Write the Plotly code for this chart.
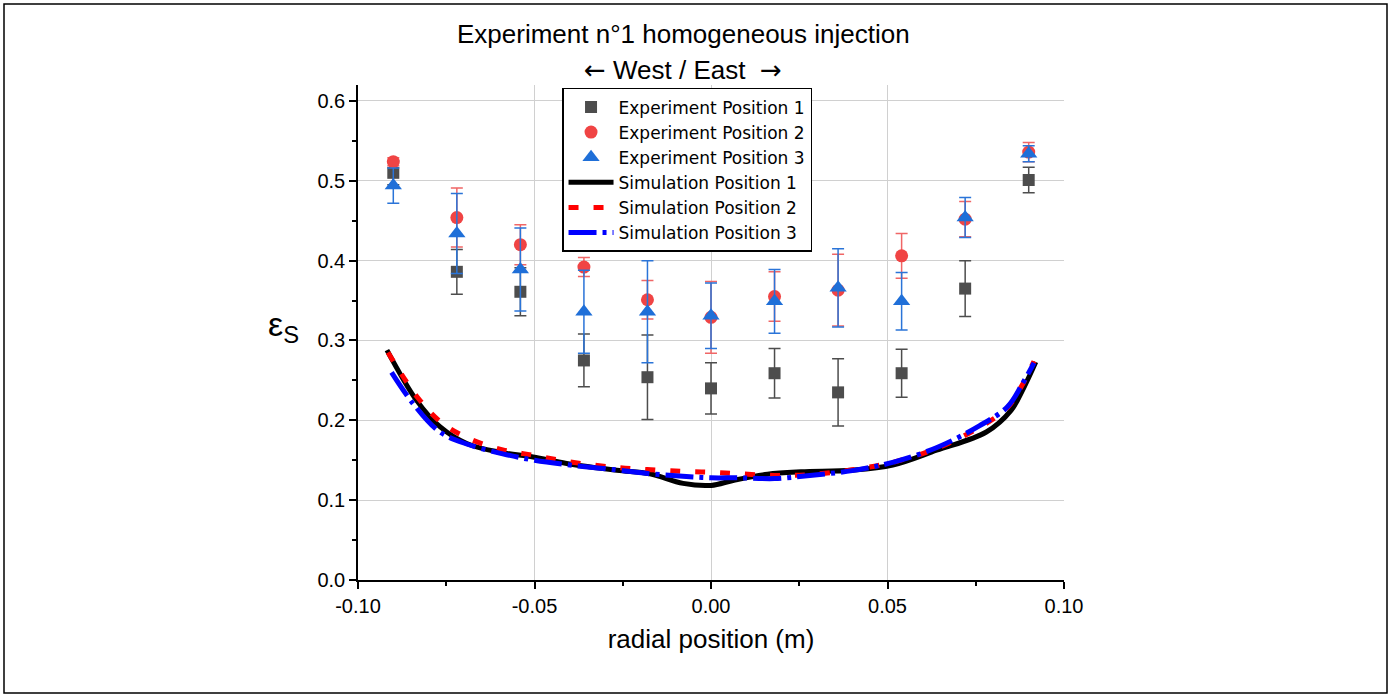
import plotly.graph_objects as go

# experimental positions (m)
x_exp = [-0.09, -0.072, -0.054, -0.036, -0.018, 0.0, 0.018, 0.036, 0.054, 0.072, 0.09]

exp1 = [0.510, 0.386, 0.361, 0.275, 0.254, 0.240, 0.259, 0.235, 0.259, 0.365, 0.501]
exp1_err = [0.015, 0.028, 0.030, 0.033, 0.053, 0.032, 0.031, 0.042, 0.030, 0.035, 0.016]

exp2 = [0.524, 0.454, 0.420, 0.392, 0.351, 0.329, 0.355, 0.363, 0.406, 0.452, 0.536]
exp2_err = [0.005, 0.037, 0.025, 0.012, 0.024, 0.045, 0.031, 0.045, 0.028, 0.022, 0.012]

exp3 = [0.494, 0.434, 0.389, 0.336, 0.336, 0.331, 0.349, 0.366, 0.349, 0.454, 0.534]
exp3_err = [0.022, 0.050, 0.052, 0.052, 0.064, 0.041, 0.040, 0.049, 0.036, 0.025, 0.010]

# simulation profiles
x_sim1 = [-0.0918, -0.0834, -0.0768, -0.0692, -0.0598, -0.0504, -0.0409, -0.0267, -0.0173,
          -0.0079, 0.0, 0.0065, 0.016, 0.0255, 0.040, 0.0515, 0.0639, 0.078, 0.085, 0.0887, 0.092]
sim1 = [0.288, 0.225, 0.192, 0.171, 0.160, 0.154, 0.146, 0.1375, 0.133,
        0.121, 0.1185, 0.125, 0.1325, 0.1355, 0.1375, 0.144, 0.1625, 0.1854, 0.2125, 0.2417, 0.273]

x_sim2 = [-0.0915, -0.083, -0.076, -0.068, -0.059, -0.050, -0.040, -0.027, -0.017,
          -0.008, 0.0, 0.008, 0.018, 0.028, 0.040, 0.052, 0.064, 0.076, 0.084, 0.088, 0.0915]
sim2 = [0.285, 0.228, 0.196, 0.176, 0.163, 0.156, 0.148, 0.141, 0.138,
        0.136, 0.135, 0.133, 0.131, 0.132, 0.138, 0.148, 0.165, 0.191, 0.216, 0.243, 0.274]

x_sim3 = [-0.0905, -0.0844, -0.077, -0.069, -0.059, -0.050, -0.040, -0.027, -0.017,
          -0.008, 0.0, 0.008, 0.018, 0.028, 0.040, 0.052, 0.064, 0.076, 0.084, 0.088, 0.0915]
sim3 = [0.260, 0.221, 0.186, 0.170, 0.158, 0.150, 0.144, 0.138, 0.133,
        0.130, 0.128, 0.128, 0.127, 0.131, 0.137, 0.148, 0.166, 0.193, 0.217, 0.244, 0.272]

fig = go.Figure()

fig.add_trace(go.Scatter(
    x=x_exp, y=exp1, mode='markers', name='Experiment Position 1',
    marker=dict(symbol='square', size=12, color='#4d4d4d'),
    error_y=dict(type='data', array=exp1_err, color='#4d4d4d', thickness=1.5, width=6)))
fig.add_trace(go.Scatter(
    x=x_exp, y=exp2, mode='markers', name='Experiment Position 2',
    marker=dict(symbol='circle', size=13, color='#f04444'),
    error_y=dict(type='data', array=exp2_err, color='#f06666', thickness=1.5, width=6)))
fig.add_trace(go.Scatter(
    x=x_exp, y=exp3, mode='markers', name='Experiment Position 3',
    marker=dict(symbol='triangle-up', size=15, color='#1f6fd8'),
    error_y=dict(type='data', array=exp3_err, color='#2a74d8', thickness=1.5, width=6)))

fig.add_trace(go.Scatter(
    x=x_sim1, y=sim1, mode='lines', name='Simulation Position 1', line_shape='spline',
    line=dict(color='black', width=5)))
fig.add_trace(go.Scatter(
    x=x_sim2, y=sim2, mode='lines', name='Simulation Position 2', line_shape='spline',
    line=dict(color='#ff0000', width=5, dash='10px,15px')))
fig.add_trace(go.Scatter(
    x=x_sim3, y=sim3, mode='lines', name='Simulation Position 3', line_shape='spline',
    line=dict(color='#0000ff', width=5, dash='28px,6px,4px,6px')))

fnt = 'Liberation Sans, Arial, sans-serif'
arrow = "<span style='font-family:DejaVu Sans'>%s</span>"

fig.update_layout(
    width=1392, height=698,
    margin=dict(l=358, r=328, t=85, b=118),
    plot_bgcolor='white', paper_bgcolor='white',
    font=dict(family=fnt, color='black'),
    showlegend=True,
    legend=dict(x=0.289, y=0.994, xanchor='left', yanchor='top',
                bordercolor='black', borderwidth=1.5, bgcolor='white',
                font=dict(size=17, family='DejaVu Sans'), tracegroupgap=0, itemwidth=45),
    xaxis=dict(range=[-0.1, 0.1], tickvals=[-0.1, -0.05, 0, 0.05, 0.1],
               ticktext=['-0.10', '-0.05', '0.00', '0.05', '0.10'],
               showline=True, linecolor='black', linewidth=1.5, mirror=False,
               ticks='outside', ticklen=7, tickwidth=1.5, tickcolor='black',
               minor=dict(dtick=0.025, ticks='outside', ticklen=4, tickcolor='black', showgrid=False),
               showgrid=True, gridcolor='#d0d0d0', gridwidth=1, zeroline=False,
               tickfont=dict(size=20),
               title=dict(text='radial position (m)', font=dict(size=26), standoff=14)),
    yaxis=dict(range=[0, 0.62], tickvals=[0, 0.1, 0.2, 0.3, 0.4, 0.5, 0.6],
               ticktext=['0.0', '0.1', '0.2', '0.3', '0.4', '0.5', '0.6'],
               showline=True, linecolor='black', linewidth=1.5, mirror=False,
               ticks='outside', ticklen=7, tickwidth=1.5, tickcolor='black',
               minor=dict(dtick=0.05, ticks='outside', ticklen=4, tickcolor='black', showgrid=False),
               showgrid=True, gridcolor='#d0d0d0', gridwidth=1, zeroline=False,
               tickfont=dict(size=20)),
    annotations=[
        dict(text='Experiment n°1 homogeneous injection', x=(683 - 358) / 706, y=(580 - 34) / 495,
             xref='paper', yref='paper', xanchor='center', yanchor='middle',
             showarrow=False, font=dict(size=26)),
        dict(text=(arrow % '\u2190') + ' West / East  ' + (arrow % '\u2192'),
             x=(683 - 358) / 706, y=(580 - 70) / 495,
             xref='paper', yref='paper', xanchor='center', yanchor='middle',
             showarrow=False, font=dict(size=26)),
        dict(text='\u03b5<sub>S</sub>', x=(283 - 358) / 706, y=(580 - 326) / 495,
             xref='paper', yref='paper', xanchor='center', yanchor='middle',
             showarrow=False, font=dict(size=34)),
    ],
    shapes=[dict(type='rect', xref='paper', yref='paper',
                 x0=(4 - 358) / 706, x1=(1387 - 358) / 706,
                 y0=(580 - 693) / 495, y1=(580 - 4) / 495,
                 line=dict(color='black', width=1.5))],
)

fig.write_html("out.html", config={'displayModeBar': False},
               post_script="document.body.style.margin='0';document.body.style.overflow='hidden';")
